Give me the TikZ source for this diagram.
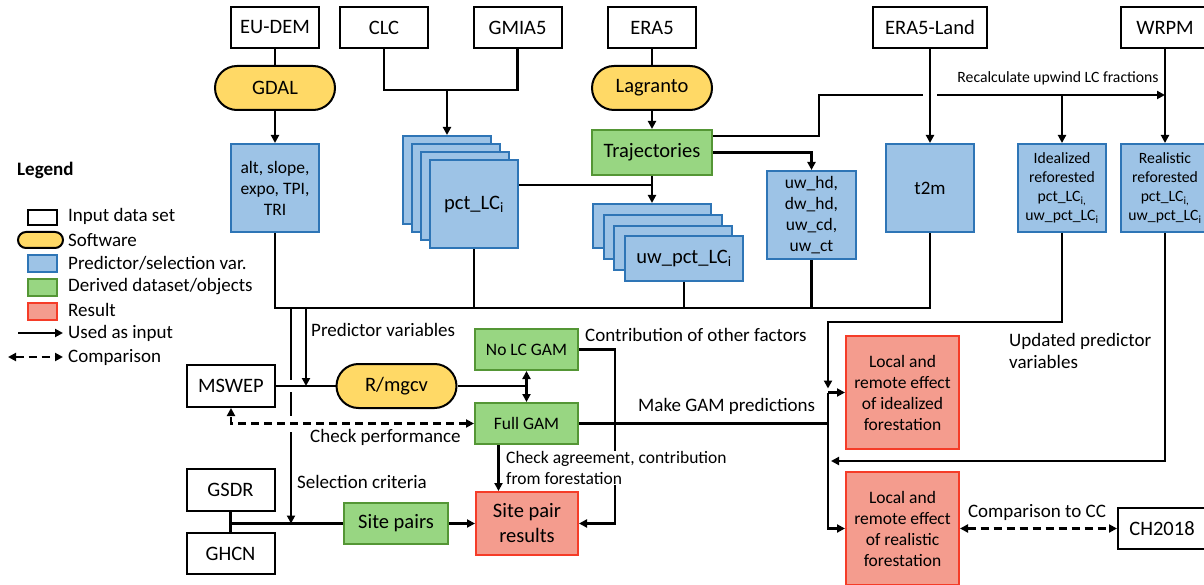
\documentclass[tikz,border=0pt]{standalone}
\usepackage{fontspec}
\setmainfont{Carlito}
\usetikzlibrary{arrows.meta,positioning,calc}
\definecolor{swYellow}{RGB}{255,217,102}
\definecolor{prBlue}{RGB}{157,195,230}
\definecolor{prBlueDark}{RGB}{46,117,182}
\definecolor{dvGreen}{RGB}{152,214,130}
\definecolor{dvGreenDark}{RGB}{84,150,53}
\definecolor{rsRed}{RGB}{244,156,142}
\definecolor{rsRedDark}{RGB}{245,60,40}
\newcommand{\fsBig}{\fontsize{20.5}{25}\selectfont}
\newcommand{\fsLab}{\fontsize{19}{22.5}\selectfont}
\newcommand{\fsBox}{\fontsize{17.5}{21}\selectfont}
\newcommand{\fsSmall}{\fontsize{15.7}{19}\selectfont}
\tikzset{
  databox/.style={
    rectangle, draw=black, line width=2pt, fill=white, inner sep=0pt,
    minimum width=88pt, minimum height=41pt, font=\fsBig},
  softbox/.style={
    rectangle, rounded corners=22pt, draw=black, line width=2pt, fill=swYellow,
    inner sep=0pt, minimum width=120pt, minimum height=44pt, font=\fsBig},
  predbox/.style={
    rectangle, draw=prBlueDark, line width=2pt, fill=prBlue, align=center,
    inner sep=0pt, minimum width=88pt, minimum height=88pt, font=\fsBox},
  derivbox/.style={
    rectangle, draw=dvGreenDark, line width=2pt, fill=dvGreen, align=center,
    inner sep=0pt, font=\fsBig},
  resultbox/.style={
    rectangle, draw=rsRedDark, line width=2pt, fill=rsRed, align=center,
    inner sep=0pt, font=\fsBox},
  lbl/.style={inner sep=0pt, align=left, font=\fsLab},
  link/.style={line width=2.7pt},
  feed/.style={link, -{Triangle[length=8pt,width=8pt]}},
  feedboth/.style={link, {Triangle[length=8pt,width=8pt]}-{Triangle[length=8pt,width=8pt]}},
  compare/.style={link, dash pattern=on 8pt off 5pt,
    {Triangle[length=8pt,width=8pt]}-{Triangle[length=8pt,width=8pt]}}
}

\begin{document}
\begin{tikzpicture}[x=1pt,y=-1pt]
  \useasboundingbox (0,0) rectangle (1204,585);

  % input data sets
  \node[databox] (eudem) at (275,27.5) {EU-DEM};
  \node[databox] (clc) at (384,27.5) {CLC};
  \node[databox] (gmia) at (517.5,27.5) {GMIA5};
  \node[databox] (era5) at (652,27.5) {ERA5};
  \node[databox, minimum width=114pt] (era5land) at (930,27.5) {ERA5-Land};
  \node[databox] (wrpm) at (1165,27.5) {WRPM};

  % software
  \node[softbox] (gdal) at (275,88) {GDAL};
  \node[softbox] (lagranto) at (652,88) {Lagranto};

  % predictors
  \node[predbox] (topo) at (275,188) {alt, slope,\\expo, TPI,\\TRI};
  \foreach \k in {0,1,2}
    \node[predbox] (pct\k) at (446.5+9.17*\k,180+8.17*\k) {};
  \node[predbox, font=\fsBig] (pctF) at (474,204.5) {pct\_LC\textsubscript{i}};
  \node[derivbox, minimum width=120pt, minimum height=45pt] (traj) at (652,152.5) {Trajectories};
  \foreach \k in {0,1,2}
    \node[predbox, minimum width=118pt, minimum height=44pt] (uw\k) at (652+10.67*\k,226+10.83*\k) {};
  \node[predbox, minimum width=118pt, minimum height=44pt, font=\fsBig] (uwF) at (684,258.5) {uw\_pct\_LC\textsubscript{i}};
  \node[predbox, minimum width=89pt] (uwhd) at (811.5,215) {uw\_hd,\\dw\_hd,\\uw\_cd,\\uw\_ct};
  \node[predbox, font=\fsLab] (t2m) at (930,188) {t2m};
  \node[predbox, font=\fsSmall] (ideal) at (1062,188) {Idealized\\reforested\\pct\_LC\textsubscript{i,}\\uw\_pct\_LC\textsubscript{i}};
  \node[predbox, font=\fsSmall] (real) at (1165,188) {Realistic\\reforested\\pct\_LC\textsubscript{i,}\\uw\_pct\_LC\textsubscript{i}};

  % modelling
  \node[databox, minimum height=42pt] (mswep) at (231,386) {MSWEP};
  \node[softbox] (rmgcv) at (396.5,386) {R/mgcv};
  \node[derivbox, minimum width=103pt, minimum height=41pt, font=\fsBox] (nolc) at (526.5,349.5) {No LC GAM};
  \node[derivbox, minimum width=103pt, minimum height=41pt, font=\fsBox] (fullgam) at (526.5,423.5) {Full GAM};
  \node[resultbox, minimum width=102pt, minimum height=63pt, font=\fsBig] (spres) at (527,523.5) {Site pair\\results};
  \node[derivbox, minimum width=104pt, minimum height=41pt] (sitepairs) at (396,523.5) {Site pairs};
  \node[databox, minimum height=42pt] (gsdr) at (230.5,490) {GSDR};
  \node[databox] (ghcn) at (230.5,553.5) {GHCN};
  \node[resultbox, minimum width=113pt, minimum height=113pt] (res1) at (902.5,392.5) {Local and\\remote effect\\of idealized\\forestation};
  \node[resultbox, minimum width=113pt, minimum height=113pt] (res2) at (902.5,528.5) {Local and\\remote effect\\of realistic\\forestation};
  \node[databox] (ch2018) at (1162,528.5) {CH2018};

  % upper connectors
  \draw[link] (eudem) -- (gdal);
  \draw[feed] (gdal) -- (topo);
  \coordinate (lcJoin) at (447,90);
  \draw[link] (clc.south) |- (lcJoin) -| (gmia.south);
  \draw[feed] (lcJoin) -- (lcJoin |- pct0.north);
  \draw[link] (era5) -- (lagranto);
  \draw[feed] (lagranto) -- (traj);
  \draw[link] ([yshift=19.5pt]pctF.east) -- ([yshift=19.5pt]pctF.east -| traj.south);
  \draw[feed] (traj.south) -- (uw0.north);
  \draw[feed] (traj.east) -| (uwhd.north);
  \coordinate (recalcKnee) at (819,95);
  \coordinate (hopW) at (923,95);
  \coordinate (hopE) at (937,95);
  \draw[link] ([yshift=16.5pt]traj.east) -| (recalcKnee) -- (hopW);
  \draw[feed] (hopE) -- (hopE -| real.north);
  \draw[feed] (ideal.north |- hopE) -- (ideal.north);
  \draw[feed] (era5land) -- (t2m);
  \draw[feed] (wrpm) -- (real);

  % predictor bus
  \coordinate (busY) at (0,308);
  \draw[link] (topo.south) |- (t2m.south |- busY) -- (t2m.south);
  \foreach \src in {pctF,uwF,uwhd}
    \draw[link] (\src.south) -- (\src.south |- busY);
  \coordinate (predTap) at (306,308);
  \draw[feed] (predTap) -- (predTap |- mswep.east);
  \coordinate (selTap) at (291,308);
  \coordinate (selHop1) at (291,380);
  \coordinate (selHop2) at (291,392);
  \coordinate (selHop3) at (291,416);
  \coordinate (selHop4) at (291,432);
  \draw[link] (selTap) -- (selHop1);
  \draw[link] (selHop2) -- (selHop3);
  \draw[feed] (selHop4) -- (selHop4 |- sitepairs.west);

  % model connectors
  \draw[link] (mswep) -- (rmgcv);
  \draw[link] (rmgcv.east) -- (rmgcv.east -| nolc.south);
  \draw[feedboth] (nolc) -- (fullgam);
  \draw[compare] (fullgam.west) -| (mswep.south);
  \coordinate (ctrbKnee) at (615,523.5);
  \draw[feed] (nolc.east) -| (ctrbKnee) -- (spres.east);
  \draw[feed] ([xshift=-28pt]fullgam.south) -- ([xshift=-28pt]fullgam.south |- spres.north);
  \draw[feed] (sitepairs) -- (spres);
  \draw[link] (gsdr) -- (ghcn);
  \draw[link] (gsdr.south |- sitepairs.west) -- (sitepairs.west);

  % result connectors
  \coordinate (updKnee) at (828,322);
  \coordinate (realBack) at (831,461);
  \draw[feed] (ideal.south) |- (updKnee) -- ([yshift=4pt]updKnee |- res1.west);
  \draw[feed] (updKnee |- res1.west) -- (res1.west);
  \draw[feed] (updKnee |- res1.west) |- (res2.west);
  \draw[link] (fullgam.east) -- (fullgam.east -| updKnee);
  \draw[feed] (real.south) |- (realBack);
  \draw[compare] (res2) -- (ch2018);

  % labels
  \node[lbl, font=\fsSmall] (recalcLbl) at (1058,78) {Recalculate upwind LC fractions};
  \node[lbl, anchor=west] (predLbl) at (311,330) {Predictor variables};
  \node[lbl, anchor=west] (perfLbl) at (310,437) {Check performance};
  \node[lbl, anchor=west] (selLbl) at (297,482) {Selection criteria};
  \node[lbl, anchor=west] (ctrbLbl) at (585,335) {Contribution of other factors};
  \node[lbl, anchor=west] (gamLbl) at (638,406) {Make GAM predictions};
  \node[lbl, anchor=west, font=\fsBox, fill=white] (agreeLbl) at (506,468) {Check agreement, contribution\\from forestation};
  \node[lbl, anchor=west] (updLbl) at (1009,351) {Updated predictor\\variables};
  \node[lbl] (cmpLbl) at (1037,512) {Comparison to CC};

  % legend
  \node[lbl, anchor=west, font=\bfseries\fsLab] (legHead) at (17,170) {Legend};
  \node[databox, minimum width=29pt, minimum height=15pt] (legData) at (42.5,217.5) {};
  \node[softbox, minimum width=45pt, minimum height=16pt, rounded corners=8pt] (legSoft) at (40.5,240) {};
  \node[predbox, minimum width=29pt, minimum height=17pt] (legPred) at (42.5,263.5) {};
  \node[derivbox, minimum width=29pt, minimum height=17pt] (legDeriv) at (42.5,287.5) {};
  \node[resultbox, minimum width=29pt, minimum height=17pt] (legRes) at (42.5,311) {};
  \coordinate (legUseA) at (18,333);
  \coordinate (legUseB) at (63,333);
  \draw[feed] (legUseA) -- (legUseB);
  \coordinate (legCmpA) at (8,357);
  \coordinate (legCmpB) at (63,357);
  \draw[compare] (legCmpA) -- (legCmpB);
  \node[lbl, anchor=west] (legDataTxt) at (68,216) {Input data set};
  \node[lbl, anchor=west] (legSoftTxt) at (68,240) {Software};
  \node[lbl, anchor=west] (legPredTxt) at (68,263) {Predictor/selection var.};
  \node[lbl, anchor=west] (legDerivTxt) at (68,287) {Derived dataset/objects};
  \node[lbl, anchor=west] (legResTxt) at (68,310) {Result};
  \node[lbl, anchor=west] (legUseTxt) at (68,333) {Used as input};
  \node[lbl, anchor=west] (legCmpTxt) at (68,357) {Comparison};
\end{tikzpicture}
\end{document}
